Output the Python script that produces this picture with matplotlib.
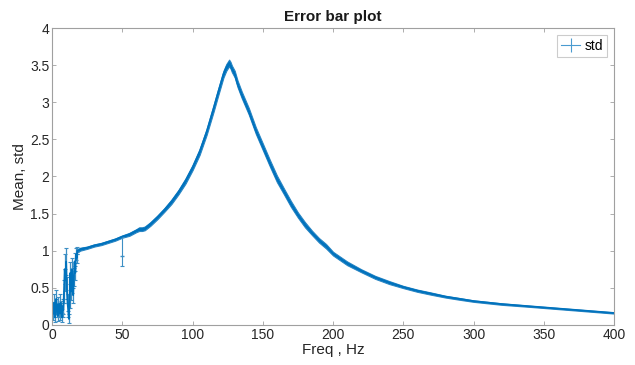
import matplotlib.pyplot as plt
import numpy as np

plt.rcParams['font.family'] = ['Liberation Sans', 'DejaVu Sans']

# low frequency part (noisy)
freq_low = [0.5, 1.0, 1.5, 2.0, 2.5, 3.0, 3.5, 4.0, 4.5, 5.0, 5.5, 6.0, 6.5, 7.0, 7.5, 8.0,
            8.5, 9.0, 9.5, 10.0, 10.5, 11.0, 11.5, 12.0, 12.5, 13.0, 13.5, 14.0, 14.5, 15.0,
            15.5, 16.0, 16.5, 17.0, 17.5, 18.0]
mean_low = [0.2, 0.15, 0.3, 0.1, 0.25, 0.35, 0.18, 0.12, 0.28, 0.2, 0.15, 0.3, 0.22, 0.1, 0.25, 0.2,
            0.45, 0.75, 0.6, 0.85, 0.5, 0.3, 0.2, 0.08, 0.35, 0.7, 0.45, 0.75, 0.55, 0.4,
            0.65, 0.85, 0.7, 0.95, 0.9, 1.0]
std_low = [0.1, 0.08, 0.12, 0.06, 0.1, 0.12, 0.08, 0.07, 0.1, 0.09, 0.08, 0.12, 0.1, 0.06, 0.1, 0.09,
           0.15, 0.2, 0.15, 0.18, 0.15, 0.12, 0.1, 0.06, 0.12, 0.15, 0.12, 0.15, 0.12, 0.1,
           0.12, 0.12, 0.1, 0.08, 0.06, 0.05]

# main response curve
freq_main = [18.5, 20, 25, 30, 35, 40, 45, 50, 55, 58, 60, 62, 64, 66, 68, 70, 75, 80, 85,
             90, 95, 100, 105, 110, 115, 118, 120, 122, 124, 125, 126, 127, 128, 130, 132, 135,
             140, 145, 150, 155, 160, 165, 170, 175, 180, 185, 190, 195, 200, 210, 220, 230,
             240, 250, 260, 270, 280, 290, 300, 320, 340, 360, 380, 400]
mean_main = [1.0, 1.02, 1.04, 1.07, 1.09, 1.12, 1.15, 1.19, 1.22, 1.25, 1.27, 1.29, 1.29,
             1.3, 1.33, 1.36, 1.45, 1.55, 1.66, 1.79, 1.94, 2.12, 2.33, 2.6, 2.92, 3.12, 3.25,
             3.38, 3.47, 3.5, 3.53, 3.5, 3.45, 3.38, 3.25, 3.1, 2.88, 2.62, 2.4, 2.18, 1.97,
             1.8, 1.63, 1.48, 1.35, 1.24, 1.14, 1.06, 0.96, 0.83, 0.73, 0.64, 0.57, 0.51, 0.46,
             0.42, 0.38, 0.35, 0.32, 0.28, 0.25, 0.22, 0.19, 0.16]
std_main = [0.02, 0.02, 0.015, 0.015, 0.015, 0.015, 0.015, 0.015, 0.02, 0.02, 0.02, 0.025, 0.025,
            0.025, 0.025, 0.025, 0.025, 0.025, 0.03, 0.03, 0.035, 0.035, 0.04, 0.04, 0.045, 0.045,
            0.045, 0.045, 0.045, 0.045, 0.045, 0.045, 0.045, 0.045, 0.045, 0.045, 0.045, 0.045,
            0.045, 0.045, 0.045, 0.04, 0.04, 0.035, 0.035, 0.03, 0.03, 0.03, 0.025, 0.025, 0.02,
            0.02, 0.02, 0.015, 0.015, 0.015, 0.012, 0.012, 0.01, 0.01, 0.008, 0.008, 0.008, 0.008]

# single outlier at 50 Hz (error below / above)
freq_out = [50]
mean_out = [0.93]
std_out_lo = [0.13]
std_out_hi = [0.25]

blue = '#0072BD'
ebar = '#3d8fc4'

fig = plt.figure(figsize=(6.35, 3.65), dpi=100)
ax = fig.add_axes([0.082, 0.11, 0.885, 0.813])

freq = freq_low + freq_main
mean = mean_low + mean_main

# dense band of error bars along the main curve
ax.fill_between(freq_main, np.array(mean_main) - np.array(std_main),
                np.array(mean_main) + np.array(std_main), color=blue, linewidth=0.8,
                edgecolor='#2a86c4')
ax.errorbar(freq_low, mean_low, yerr=std_low, color=blue, ecolor=ebar, elinewidth=0.9,
            capsize=1.5, capthick=0.8, linewidth=0)
ax.errorbar(freq_out, mean_out, yerr=[std_out_lo, std_out_hi], color=ebar, ecolor=ebar,
            elinewidth=0.8, capsize=1.5, capthick=0.8, linewidth=0, marker='_', markersize=3)
ax.plot(freq, mean, color=blue, linewidth=1.3)
# legend handle
ax.errorbar([], [], yerr=[], color='#4a9bd0', elinewidth=0.8, capsize=3, linewidth=0.8,
            label='std')

ax.set_xlim(0, 400)
ax.set_ylim(0, 4)
ax.set_xticks(np.arange(0, 401, 50))
ax.set_yticks([0, 0.5, 1, 1.5, 2, 2.5, 3, 3.5, 4])
ax.set_yticklabels(['0', '0.5', '1', '1.5', '2', '2.5', '3', '3.5', '4'])
ax.tick_params(direction='in', top=True, right=True, length=3, width=0.6,
               labelcolor='#262626', labelsize=10, pad=2, color='#a0a0a0')
for spine in ax.spines.values():
    spine.set_color('#a0a0a0')
    spine.set_linewidth(0.8)

ax.set_xlabel('Freq , Hz', fontsize=11, color='#262626', labelpad=1)
ax.set_ylabel('Mean, std', fontsize=11, color='#262626', labelpad=2)
ax.set_title('Error bar plot', fontsize=11, fontweight='bold', color='#1a1a1a', pad=5)

leg = ax.legend(loc='upper right', fontsize=10, fancybox=False, handlelength=1.4,
                borderpad=0.3, handletextpad=0.3, borderaxespad=0.5)
leg.get_frame().set_edgecolor('#c0c0c0')
leg.get_frame().set_linewidth(0.8)

plt.savefig('out.png', dpi=100)
